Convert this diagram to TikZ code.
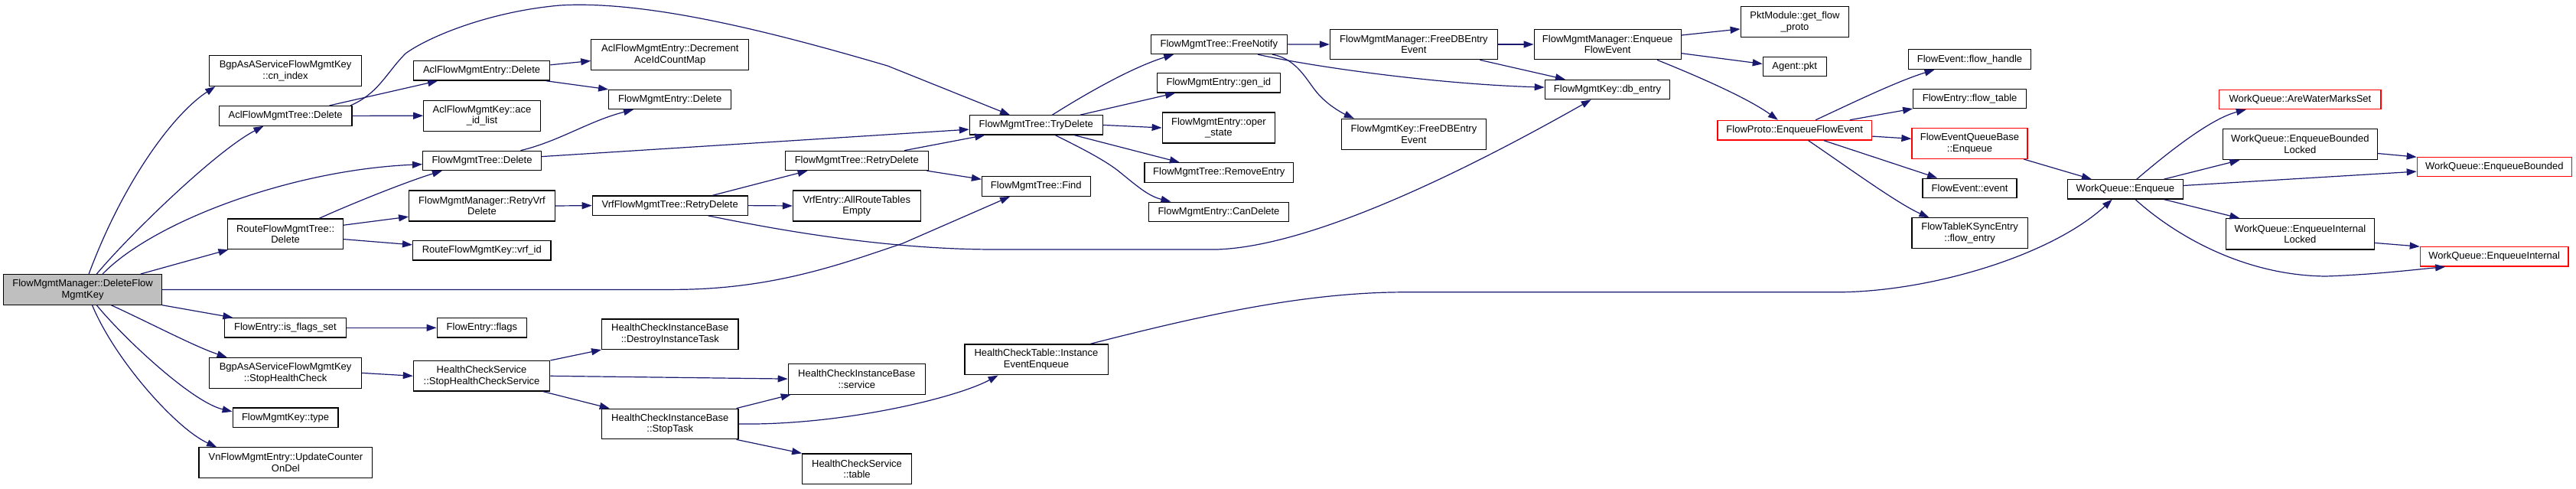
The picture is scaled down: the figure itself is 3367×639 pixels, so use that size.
\documentclass[tikz,border=0pt]{standalone}
\usepackage{fontspec}
\setmainfont{Liberation Sans}
\usetikzlibrary{arrows.meta}
\definecolor{edgeblue}{HTML}{191970}
\definecolor{nodegray}{HTML}{BFBFBF}
\newcommand\nodefont{\fontsize{13}{14.7}\selectfont}
\tikzset{
  box/.style={draw=black, line width=1.2pt, fill=white, inner sep=0pt, align=center, font=\nodefont},
  redbox/.style={box, draw=red},
  rootbox/.style={box, fill=nodegray},
  edge/.style={draw=edgeblue, line width=1.2pt, -{Triangle[length=13pt,width=9pt]}},
}
\begin{document}
\begin{tikzpicture}[x=1pt,y=-1pt]
\useasboundingbox[fill=white] (0,0) rectangle (3367,639);
% column 0
\node[rootbox, minimum width=207pt, minimum height=39.5pt] (main) at (108.1,378.4) {FlowMgmtManager::DeleteFlow\\MgmtKey};
% column 1
\node[box, minimum width=199pt, minimum height=39.6pt] (cn) at (373.1,92.7) {BgpAsAServiceFlowMgmtKey\\::cn\_index};
\node[box, minimum width=173.7pt, minimum height=25.7pt] (aclTree) at (373.2,151.4) {AclFlowMgmtTree::Delete};
\node[box, minimum width=150.8pt, minimum height=39.6pt] (routeTree) at (373.1,305.8) {RouteFlowMgmtTree::\\Delete};
\node[box, minimum width=158.8pt, minimum height=25.3pt] (isflags) at (372.9,428.3) {FlowEntry::is\_flags\_set};
\node[box, minimum width=199pt, minimum height=39.9pt] (stopHC) at (373.1,487.4) {BgpAsAServiceFlowMgmtKey\\::StopHealthCheck};
\node[box, minimum width=137.8pt, minimum height=25.3pt] (ktype) at (373.1,545.7) {FlowMgmtKey::type};
\node[box, minimum width=226.9pt, minimum height=39.5pt] (vn) at (373.4,604.6) {VnFlowMgmtEntry::UpdateCounter\\OnDel};
% column 2
\node[box, minimum width=178.4pt, minimum height=25.2pt] (aclEntry) at (629.6,92.5) {AclFlowMgmtEntry::Delete};
\node[box, minimum width=152.4pt, minimum height=39.9pt] (ace) at (630,151.2) {AclFlowMgmtKey::ace\\\_id\_list};
\node[box, minimum width=154.7pt, minimum height=25.3pt] (fmtDelete) at (630,209.9) {FlowMgmtTree::Delete};
\node[box, minimum width=190.7pt, minimum height=39.9pt] (retryVrf) at (630,269) {FlowMgmtManager::RetryVrf\\Delete};
\node[box, minimum width=180.4pt, minimum height=25.3pt] (vrfid) at (629.8,327.3) {RouteFlowMgmtKey::vrf\_id};
\node[box, minimum width=117.5pt, minimum height=25.3pt] (flags) at (629.9,428.3) {FlowEntry::flags};
\node[box, minimum width=178.4pt, minimum height=39.5pt] (stopHCS) at (629.6,491.3) {HealthCheckService\\::StopHealthCheckService};
% column 3
\node[box, minimum width=205.9pt, minimum height=40pt] (decrement) at (875.8,71.3) {AclFlowMgmtEntry::Decrement\\AceIdCountMap};
\node[box, minimum width=160pt, minimum height=25.2pt] (fmeDelete) at (875.7,130) {FlowMgmtEntry::Delete};
\node[box, minimum width=202.8pt, minimum height=25.3pt] (vrfRetry) at (875.7,268.6) {VrfFlowMgmtTree::RetryDelete};
\node[box, minimum width=178.3pt, minimum height=39.5pt] (destroy) at (875.8,436.7) {HealthCheckInstanceBase\\::DestroyInstanceTask};
\node[box, minimum width=178.3pt, minimum height=39.6pt] (stopTask) at (875.8,554) {HealthCheckInstanceBase\\::StopTask};
% column 4
\node[box, minimum width=186.6pt, minimum height=25.3pt] (retryDelete) at (1119.8,209.9) {FlowMgmtTree::RetryDelete};
\node[box, minimum width=166.6pt, minimum height=39.9pt] (allRoute) at (1119.8,269) {VrfEntry::AllRouteTables\\Empty};
\node[box, minimum width=179pt, minimum height=40pt] (service) at (1119.8,495.1) {HealthCheckInstanceBase\\::service};
\node[box, minimum width=142.6pt, minimum height=39.5pt] (table) at (1120,612.7) {HealthCheckService\\::table};
% column 5
\node[box, minimum width=173.8pt, minimum height=25.2pt] (tryDelete) at (1354.3,163.4) {FlowMgmtTree::TryDelete};
\node[box, minimum width=141.6pt, minimum height=25.7pt] (find) at (1354.3,243.5) {FlowMgmtTree::Find};
\node[box, minimum width=187.2pt, minimum height=39.9pt] (instEnq) at (1354.5,469.9) {HealthCheckTable::Instance\\EventEnqueue};
% column 6
\node[box, minimum width=178pt, minimum height=25.3pt] (freeNotify) at (1593.3,57.9) {FlowMgmtTree::FreeNotify};
\node[box, minimum width=160.4pt, minimum height=25.2pt] (genId) at (1592.9,108.4) {FlowMgmtEntry::gen\_id};
\node[box, minimum width=147.4pt, minimum height=39.9pt] (oper) at (1592.9,167) {FlowMgmtEntry::oper\\\_state};
\node[box, minimum width=194.8pt, minimum height=25.7pt] (removeEntry) at (1593.3,225.6) {FlowMgmtTree::RemoveEntry};
\node[box, minimum width=182.5pt, minimum height=25.2pt] (canDelete) at (1593,276.7) {FlowMgmtEntry::CanDelete};
% column 7
\node[box, minimum width=218.9pt, minimum height=39.5pt] (mgrFreeDB) at (1847.9,58) {FlowMgmtManager::FreeDBEntry\\Event};
\node[box, minimum width=189.1pt, minimum height=39.9pt] (keyFreeDB) at (1847.9,175.3) {FlowMgmtKey::FreeDBEntry\\Event};
% column 8
\node[box, minimum width=192.1pt, minimum height=39.5pt] (mgrEnq) at (2101.2,58) {FlowMgmtManager::Enqueue\\FlowEvent};
\node[box, minimum width=163.4pt, minimum height=25.3pt] (dbEntry) at (2101,117) {FlowMgmtKey::db\_entry};
% column 9
\node[box, minimum width=141.6pt, minimum height=39.9pt] (getFlowProto) at (2346,28.6) {PktModule::get\_flow\\\_proto};
\node[box, minimum width=82.8pt, minimum height=25.2pt] (agentPkt) at (2345.7,87.2) {Agent::pkt};
\node[redbox, minimum width=201.4pt, minimum height=25.7pt] (flowProtoEnq) at (2345.7,170.2) {FlowProto::EnqueueFlowEvent};
% column 10
\node[box, minimum width=160.3pt, minimum height=25.7pt] (flowHandle) at (2574.5,77.7) {FlowEvent::flow\_handle};
\node[box, minimum width=147.9pt, minimum height=25.3pt] (flowTable) at (2574.6,128.8) {FlowEntry::flow\_table};
\node[redbox, minimum width=151.1pt, minimum height=39.9pt] (feqbEnq) at (2574.5,187.5) {FlowEventQueueBase\\::Enqueue};
\node[box, minimum width=123.1pt, minimum height=25.3pt] (fevent) at (2574.5,245.8) {FlowEvent::event};
\node[box, minimum width=151.4pt, minimum height=40pt] (ksync) at (2574.6,304.8) {FlowTableKSyncEntry\\::flow\_entry};
% column 11
\node[box, minimum width=150.7pt, minimum height=25.3pt] (wqEnq) at (2777.9,247.4) {WorkQueue::Enqueue};
% column 12
\node[redbox, minimum width=211.1pt, minimum height=24.8pt] (areWM) at (3006.4,130.2) {WorkQueue::AreWaterMarksSet};
\node[box, minimum width=201.7pt, minimum height=40.3pt] (ebl) at (3006.4,188.5) {WorkQueue::EnqueueBounded\\Locked};
\node[box, minimum width=193.6pt, minimum height=40.3pt] (eil) at (3006.4,305.9) {WorkQueue::EnqueueInternal\\Locked};
% column 13
\node[redbox, minimum width=202pt, minimum height=24.8pt] (eb) at (3260.3,218.2) {WorkQueue::EnqueueBounded};
\node[redbox, minimum width=193.6pt, minimum height=25.3pt] (ei) at (3260.1,335.4) {WorkQueue::EnqueueInternal};

% edges from main
\draw[edge] ([xshift=8pt]main.north) .. controls (160,240) and (225,150) .. ([xshift=-91.8pt]cn.south);
\draw[edge] ([xshift=18.2pt]main.north) .. controls (171,305) and (282.6,197.1) .. ([xshift=-28.8pt]aclTree.south);
\draw[edge] ([xshift=26pt]main.north) .. controls (200,290) and (380,222) .. ([yshift=-4.8pt]fmtDelete.west);
\draw[edge] ([xshift=75.6pt]main.north) -- ([xshift=-74.6pt]routeTree.south);
\draw[edge] (main.east) -- (880,378.4) .. controls (1010,378.4) and (1100,345) .. (1180,318) -- ([xshift=-34.3pt]find.south);
\draw[edge] (main.south east) -- ([xshift=11.5pt]isflags.north west);
\draw[edge] ([xshift=37.3pt]main.south) .. controls (200,424) and (255,453) .. ([xshift=-76.5pt]stopHC.north);
\draw[edge] ([xshift=18.2pt]main.south) .. controls (160,440) and (250,525) .. ([yshift=7.8pt]ktype.west);
\draw[edge] ([xshift=12.4pt]main.south) .. controls (150,470) and (230,560) .. ([xshift=-90.2pt]vn.north);

% column 1 edges
\draw[edge] ([xshift=-2.7pt]aclTree.north east) .. controls (495,122) and (505,95) .. (530,70) .. controls (560,48) and (640,15) .. (732,7) .. controls (850,0) and (1020,45) .. (1160,86) -- ([xshift=-34.3pt]tryDelete.north);
\draw[edge] ([xshift=57.3pt]aclTree.north) -- ([xshift=-57.5pt]aclEntry.south);
\draw[edge] (aclTree.east) -- (ace.west);
\draw[edge] ([xshift=44pt]routeTree.north) .. controls (460,266) and (530,238) .. ([xshift=-52.1pt]fmtDelete.south);
\draw[edge] ([yshift=11.6pt]routeTree.east) -- ([yshift=-14.2pt]retryVrf.west);
\draw[edge] ([yshift=-6.8pt]routeTree.east) -- ([yshift=7.4pt]vrfid.west);
\draw[edge] (isflags.east) -- (flags.west);
\draw[edge] (stopHC.east) -- (stopHCS.west);

% column 2 edges
\draw[edge] ([yshift=7.7pt]aclEntry.east) -- ([yshift=-8.2pt]decrement.west);
\draw[edge] ([xshift=-5.8pt]aclEntry.south east) -- (fmeDelete.north west);
\draw[edge] ([xshift=50.5pt]fmtDelete.north) .. controls (730,185) and (770,158) .. ([xshift=-47.7pt]fmeDelete.south);
\draw[edge] ([yshift=5.3pt]fmtDelete.east) -- ([yshift=-5.7pt]tryDelete.west);
\draw[edge] (retryVrf.east) -- (vrfRetry.west);
\draw[edge] (stopHCS.north east) -- (destroy.south west);
\draw[edge] (stopHCS.east) -- (service.west);
\draw[edge] ([xshift=-9.5pt]stopHCS.south east) -- ([xshift=10.7pt]stopTask.north west);

% column 3 edges
\draw[edge] ([xshift=55.5pt]vrfRetry.north) -- ([xshift=-64.2pt]retryDelete.south);
\draw[edge] (vrfRetry.east) -- (allRoute.west);
\draw[edge] ([xshift=49.8pt]vrfRetry.south) .. controls (1000,297) and (1150,326) .. (1300,326) -- (1590,326) .. controls (1720,322) and (1930,215) .. ([xshift=-21.3pt]dbEntry.south);
\draw[edge] ([xshift=-3pt]stopTask.north east) -- ([xshift=4pt]service.south west);
\draw[edge] ([xshift=-3pt]stopTask.south east) -- (table.north west);
\draw[edge] (stopTask.east) .. controls (1100,556) and (1250,520) .. ([xshift=-49.9pt]instEnq.south);

% column 4 edges
\draw[edge] ([xshift=62.3pt]retryDelete.north) -- ([xshift=-67pt]tryDelete.south);
\draw[edge] ([xshift=-2.3pt]retryDelete.south east) -- ([yshift=9.2pt]find.west);

% column 5 edges
\draw[edge] ([xshift=70.6pt]instEnq.north) .. controls (1560,415) and (1700,382) .. (1835,381.8) -- (2400,381.8) .. controls (2520,381.8) and (2680,335) .. ([xshift=-17.2pt]wqEnq.south);
\draw[edge] ([xshift=21.1pt]tryDelete.north) .. controls (1420,122) and (1480,88) .. ([xshift=-59.1pt]freeNotify.south);
\draw[edge] ([xshift=57.4pt]tryDelete.north) -- ([xshift=-56.8pt]genId.south);
\draw[edge] (tryDelete.east) -- (oper.west);
\draw[edge] ([xshift=49.7pt]tryDelete.south) -- ([xshift=-51.5pt]removeEntry.north);
\draw[edge] ([xshift=24.9pt]tryDelete.south) .. controls (1410,192) and (1440,207) .. (1460,222) .. controls (1485,242) and (1500,256) .. ([xshift=-62.6pt]canDelete.north);

% column 6 edges
\draw[edge] (freeNotify.east) -- (mgrFreeDB.west);
\draw[edge] ([xshift=-39pt]freeNotify.south east) .. controls (1720,88) and (1880,110) .. ([yshift=2.9pt]dbEntry.west);
\draw[edge] ([xshift=-20pt]freeNotify.south east) .. controls (1700,78) and (1710,112) .. (1728,128) .. controls (1740,140) and (1755,148) .. ([xshift=-78.1pt]keyFreeDB.north);

% column 7 edges
\draw[edge] (mgrFreeDB.east) -- (mgrEnq.west);
\draw[edge] ([xshift=86.4pt]mgrFreeDB.south) -- ([xshift=-55.1pt]dbEntry.north);

% column 8 edges
\draw[edge] ([yshift=12pt]mgrEnq.east) -- ([yshift=-9.3pt]getFlowProto.west);
\draw[edge] ([yshift=-11.7pt]mgrEnq.east) -- ([yshift=3.7pt]agentPkt.west);
\draw[edge] ([xshift=64.8pt]mgrEnq.south) .. controls (2200,92) and (2280,125) .. ([xshift=-21.8pt]flowProtoEnq.north);

% column 9 edges
\draw[edge] ([xshift=27.5pt]flowProtoEnq.north) .. controls (2420,135) and (2480,106) .. ([xshift=-46pt]flowHandle.south);
\draw[edge] ([xshift=72.1pt]flowProtoEnq.north) -- (flowTable.south west);
\draw[edge] ([yshift=-7.9pt]flowProtoEnq.east) -- ([yshift=6.2pt]feqbEnq.west);
\draw[edge] ([xshift=38.2pt]flowProtoEnq.south) -- ([xshift=-42.4pt]fevent.north);
\draw[edge] ([xshift=17.9pt]flowProtoEnq.south) .. controls (2410,215) and (2480,266) .. ([xshift=-53.2pt]ksync.north);

% column 10 edges
\draw[edge] ([xshift=-5.4pt]feqbEnq.south east) -- ([xshift=-44pt]wqEnq.north);

% column 11 edges
\draw[edge] ([xshift=14.9pt]wqEnq.north) .. controls (2835,198) and (2890,155) .. ([xshift=-70.6pt]areWM.south);
\draw[edge] ([xshift=50.6pt]wqEnq.north) -- ([xshift=-79pt]ebl.south);
\draw[edge] ([yshift=4.9pt]wqEnq.east) -- ([yshift=-5.9pt]eb.west);
\draw[edge] ([xshift=50.6pt]wqEnq.south) -- ([xshift=-79pt]eil.north);
\draw[edge] ([xshift=13.1pt]wqEnq.south) .. controls (2840,305) and (2930,360) .. (3040,361) .. controls (3100,359) and (3150,353) .. ([xshift=-64pt]ei.south);

% column 12 edges
\draw[edge] ([yshift=-12pt]ebl.east) -- (eb.north west);
\draw[edge] ([yshift=-11.5pt]eil.east) -- (ei.north west);
\end{tikzpicture}
\end{document}
